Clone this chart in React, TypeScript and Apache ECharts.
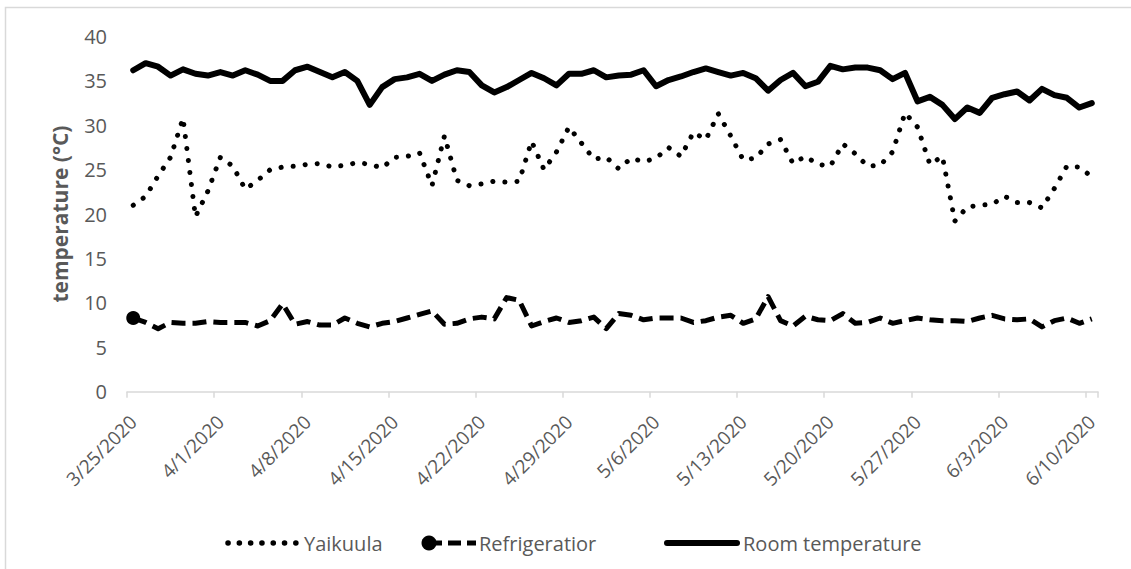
import React, { useEffect, useRef } from "react";
import * as echarts from "echarts";

const dates = [
  "3/25/2020", "3/26/2020", "3/27/2020", "3/28/2020", "3/29/2020", "3/30/2020", "3/31/2020",
  "4/1/2020", "4/2/2020", "4/3/2020", "4/4/2020", "4/5/2020", "4/6/2020", "4/7/2020",
  "4/8/2020", "4/9/2020", "4/10/2020", "4/11/2020", "4/12/2020", "4/13/2020", "4/14/2020",
  "4/15/2020", "4/16/2020", "4/17/2020", "4/18/2020", "4/19/2020", "4/20/2020", "4/21/2020",
  "4/22/2020", "4/23/2020", "4/24/2020", "4/25/2020", "4/26/2020", "4/27/2020", "4/28/2020",
  "4/29/2020", "4/30/2020", "5/1/2020", "5/2/2020", "5/3/2020", "5/4/2020", "5/5/2020",
  "5/6/2020", "5/7/2020", "5/8/2020", "5/9/2020", "5/10/2020", "5/11/2020", "5/12/2020",
  "5/13/2020", "5/14/2020", "5/15/2020", "5/16/2020", "5/17/2020", "5/18/2020", "5/19/2020",
  "5/20/2020", "5/21/2020", "5/22/2020", "5/23/2020", "5/24/2020", "5/25/2020", "5/26/2020",
  "5/27/2020", "5/28/2020", "5/29/2020", "5/30/2020", "5/31/2020", "6/1/2020", "6/2/2020",
  "6/3/2020", "6/4/2020", "6/5/2020", "6/6/2020", "6/7/2020", "6/8/2020", "6/9/2020",
  "6/10/2020",
];

const yaikuula = [
  21.0, 22.0, 24.3, 26.4, 30.8, 19.7, 22.6, 26.4, 25.4, 22.8,
  23.8, 25.0, 25.3, 25.4, 25.6, 25.7, 25.3, 25.5, 25.8, 25.6,
  25.2, 26.4, 26.5, 26.9, 23.2, 28.8, 23.8, 23.2, 23.4, 23.7,
  23.6, 23.7, 28.2, 25.0, 27.0, 29.8, 28.0, 26.2, 26.4, 25.1,
  26.3, 25.9, 26.3, 27.5, 26.5, 29.2, 28.4, 31.3, 28.8, 26.1,
  26.3, 27.9, 28.4, 25.7, 26.5, 25.6, 25.4, 27.9, 26.8, 25.4,
  25.5, 27.0, 31.4, 29.8, 25.6, 26.5, 19.2, 20.8, 21.0, 21.1,
  22.0, 21.3, 21.3, 20.7, 22.9, 25.4, 25.3, 24.2,
];

const refrigerator = [
  8.3, 7.8, 7.1, 7.8, 7.7, 7.7, 7.9, 7.8, 7.8, 7.8,
  7.4, 8.0, 9.9, 7.6, 7.9, 7.5, 7.5, 8.3, 7.7, 7.3,
  7.7, 7.9, 8.3, 8.7, 9.1, 7.6, 7.7, 8.2, 8.4, 8.2,
  10.6, 10.3, 7.4, 7.9, 8.3, 7.8, 8.0, 8.4, 7.1, 8.8,
  8.6, 8.1, 8.3, 8.3, 8.3, 7.8, 8.0, 8.4, 8.6, 7.7,
  8.2, 10.7, 8.0, 7.4, 8.5, 8.1, 8.0, 8.8, 7.7, 7.8,
  8.3, 7.7, 8.0, 8.3, 8.1, 8.0, 8.0, 7.9, 8.3, 8.6,
  8.2, 8.1, 8.2, 7.3, 8.0, 8.3, 7.7, 8.2,
];

const roomTemp = [
  36.2, 37.0, 36.6, 35.6, 36.3, 35.8, 35.6, 36.0, 35.6, 36.2,
  35.7, 35.0, 35.0, 36.2, 36.6, 36.0, 35.4, 36.0, 35.0, 32.3,
  34.3, 35.2, 35.4, 35.8, 35.0, 35.7, 36.2, 36.0, 34.5, 33.7,
  34.3, 35.1, 35.9, 35.3, 34.5, 35.8, 35.8, 36.2, 35.4, 35.6,
  35.7, 36.2, 34.4, 35.1, 35.5, 36.0, 36.4, 36.0, 35.6, 35.9,
  35.3, 33.9, 35.1, 35.9, 34.4, 34.9, 36.7, 36.3, 36.5, 36.5,
  36.2, 35.2, 35.9, 32.7, 33.2, 32.3, 30.7, 32.0, 31.4, 33.1,
  33.5, 33.8, 32.8, 34.1, 33.4, 33.1, 32.0, 32.5,
];

const seriesNames = ["Yaikuula", "Refrigeratior", "Room temperature"];
const yAxisTitle = "temperature (°C)";

const FONT = "'Open Sans', 'Noto Sans', sans-serif";
const GREY = "#595959";
const AXIS_GREY = "#d9d9d9";

export default function App() {
  const ref = useRef<HTMLDivElement>(null);

  useEffect(() => {
    document.body.style.margin = "0";
    if (!ref.current) return;
    const chart = echarts.init(ref.current, undefined, { renderer: "svg" });

    const every7 = (i: number) => i % 7 === 0;
    const legendY = 543;

    chart.setOption({
      animation: false,
      backgroundColor: "#ffffff",
      textStyle: { fontFamily: FONT },
      grid: { left: 127, right: 33, top: 36.5, bottom: 177.3, containLabel: false },
      xAxis: {
        type: "category",
        data: dates,
        boundaryGap: true,
        axisLine: { show: true, lineStyle: { color: AXIS_GREY, width: 1.5 } },
        axisTick: {
          show: true,
          interval: every7,
          alignWithLabel: false,
          length: 6,
          lineStyle: { color: AXIS_GREY, width: 1.5 },
        },
        axisLabel: {
          interval: every7,
          rotate: 45,
          color: GREY,
          fontSize: 19,
          fontFamily: FONT,
          margin: 27,
        },
        splitLine: { show: false },
      },
      yAxis: {
        type: "value",
        min: 0,
        max: 40,
        interval: 5,
        axisLine: { show: false },
        axisTick: { show: false },
        splitLine: { show: false },
        axisLabel: { color: GREY, fontSize: 20, fontFamily: FONT, margin: 20 },
        name: yAxisTitle,
        nameLocation: "middle",
        nameRotate: 90,
        nameGap: 57,
        nameTextStyle: { color: GREY, fontSize: 21, fontWeight: "bold", fontFamily: FONT },
      },
      series: [
        {
          name: seriesNames[0],
          type: "line",
          data: yaikuula,
          symbol: "none",
          lineStyle: { color: "#000", width: 5, type: [0.1, 12], cap: "round", join: "round" },
          z: 3,
        },
        {
          name: seriesNames[1],
          type: "line",
          data: refrigerator.map((v, i) =>
            i === 0 ? { value: v, symbol: "circle", symbolSize: 14, itemStyle: { color: "#000" } } : v
          ),
          symbol: "none",
          showSymbol: true,
          showAllSymbol: true,
          itemStyle: { color: "#000" },
          lineStyle: { color: "#000", width: 5, type: [14, 7], cap: "butt", join: "round" },
          z: 3,
        },
        {
          name: seriesNames[2],
          type: "line",
          data: roomTemp,
          symbol: "none",
          lineStyle: { color: "#000", width: 6, type: "solid", cap: "round", join: "round" },
          z: 3,
        },
      ],
      graphic: [
        {
          type: "rect",
          silent: true,
          shape: { x: 5.5, y: 7.5, width: 1300, height: 800 },
          style: { fill: "none", stroke: AXIS_GREY, lineWidth: 1.5 },
          z: -1,
        },
        {
          type: "line",
          silent: true,
          shape: { x1: 228, y1: legendY, x2: 296, y2: legendY },
          style: { stroke: "#000", lineWidth: 5.5, lineDash: [0.1, 11.2], lineCap: "round" },
        },
        {
          type: "text",
          silent: true,
          x: 304,
          y: legendY,
          style: { text: seriesNames[0], fill: GREY, font: `20px ${FONT}`, verticalAlign: "middle", align: "left" },
        },
        {
          type: "line",
          silent: true,
          shape: { x1: 429, y1: legendY, x2: 476, y2: legendY },
          style: { stroke: "#000", lineWidth: 5, lineDash: [13, 6] },
        },
        {
          type: "circle",
          silent: true,
          shape: { cx: 429, cy: legendY, r: 7.5 },
          style: { fill: "#000" },
        },
        {
          type: "text",
          silent: true,
          x: 479,
          y: legendY,
          style: { text: seriesNames[1], fill: GREY, font: `20px ${FONT}`, verticalAlign: "middle", align: "left" },
        },
        {
          type: "line",
          silent: true,
          shape: { x1: 667, y1: legendY, x2: 737, y2: legendY },
          style: { stroke: "#000", lineWidth: 6, lineCap: "round" },
        },
        {
          type: "text",
          silent: true,
          x: 743,
          y: legendY,
          style: { text: seriesNames[2], fill: GREY, font: `20px ${FONT}`, verticalAlign: "middle", align: "left" },
        },
      ],
    });

    return () => chart.dispose();
  }, []);

  return <div ref={ref} style={{ width: 1131, height: 569 }} />;
}
